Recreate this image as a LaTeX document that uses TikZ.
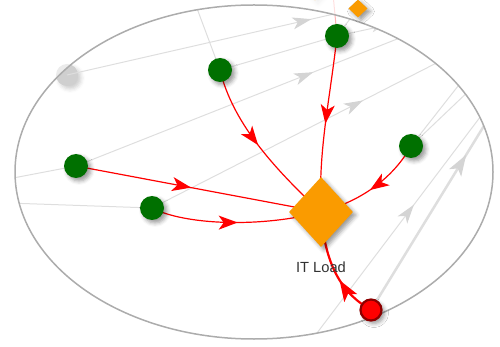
\documentclass[tikz,border=0pt]{standalone}
\usepackage{fontspec}
\setmainfont{Liberation Sans}
\usetikzlibrary{shapes.geometric,arrows.meta,decorations.markings,shadows.blur}
\definecolor{nodegreen}{RGB}{0,112,0}
\definecolor{loadorange}{RGB}{250,155,0}
\definecolor{flowred}{RGB}{255,0,0}
\definecolor{rimred}{RGB}{140,0,0}
\definecolor{rimgray}{RGB}{172,172,172}
\definecolor{tracegray}{RGB}{222,222,222}
\definecolor{tipgray}{RGB}{212,212,212}
\definecolor{labelgray}{RGB}{51,51,51}
\pgfdeclarelayer{back}
\pgfsetlayers{back,main}
\tikzset{
  softshadow/.style={blur shadow={shadow xshift=3pt, shadow yshift=-3pt,
      shadow blur radius=4pt, shadow opacity=40}},
  source/.style={circle, fill=nodegreen, minimum size=24pt, inner sep=0pt, softshadow},
  load/.style={diamond, fill=loadorange, minimum width=64pt, minimum height=70pt,
      inner sep=0pt, softshadow},
  smallload/.style={diamond, fill=loadorange, minimum width=19pt, minimum height=18pt,
      inner sep=0pt, softshadow},
  feed/.style={circle, fill=flowred, draw=rimred, line width=2.2pt, minimum size=21pt,
      inner sep=0pt, softshadow},
  ghost/.style={circle, fill=black!19, minimum size=22pt, inner sep=0pt,
      blur shadow={shadow xshift=3pt, shadow yshift=-3pt, shadow blur radius=4pt,
      shadow opacity=20}},
  labeltext/.style={text=labelgray, font=\fontsize{14.7}{17}\selectfont, inner sep=0pt},
  rim/.style={draw=rimgray, line width=1.5pt},
  flow/.style={draw=flowred, line width=1.2pt},
  redtip/.style={postaction={decorate}, decoration={markings,
      mark=at position #1 with {\arrow{Stealth[length=19pt,width=14pt,inset=5pt,color=flowred]}}}},
  trace/.style={draw=tracegray, line width=1pt},
  graytip/.style={postaction={decorate}, decoration={markings,
      mark=at position #1 with {\arrow{Stealth[length=19pt,width=12pt,inset=5pt,color=tipgray]}}}},
  smallgraytip/.style={postaction={decorate}, decoration={markings,
      mark=at position #1 with {\arrow{Stealth[length=11pt,width=8pt,inset=3pt,color=tracegray]}}}},
}
\begin{document}
\begin{tikzpicture}[x=1pt,y=-1pt]
\useasboundingbox (0,0) rectangle (500,347);

% loads, sources and feed
\node[load] (ld) at (321,212) {};
\node[labeltext] (lbl) at (321,267) {IT Load};
\node[smallload] (sd) at (358,8.5) {};
\node[source] (g1) at (220,70) {};
\node[source] (g2) at (337,36) {};
\node[source] (g3) at (76,166) {};
\node[source] (g4) at (152,208) {};
\node[source] (g5) at (411,146) {};
\node[feed] (fd) at (371,310) {};

% free ends of the background traces
\coordinate (l2end) at (192,-5);
\coordinate (l4end) at (430,26);
\coordinate (l5end) at (460,51);
\coordinate (l6aend) at (480,58);
\coordinate (l6bend) at (495,66);
\coordinate (l7start) at (317,333);
\coordinate (l7end) at (490,104);
\coordinate (l8end) at (490,116);
\coordinate (l9start) at (8,179);
\coordinate (l10start) at (8,203);
\coordinate (g2right) at (420,18);
\coordinate (fadedup) at (333,-6);

\begin{pgfonlayer}{back}
  % greyed-out source on the rim
  \node[ghost] (gh) at (67,75) {};
  % background traces, kept inside the rim
  \begin{scope}
    \clip (254,172) ellipse [x radius=239, y radius=167];
    \draw[trace, graytip=0.84] (gh.center) -- (sd.center);
    \draw[trace] (g1.center) -- (l2end);
    \draw[trace] (g1.center) -- (g2.center);
    \draw[trace] (g2.center) -- (sd.center);
    \draw[trace, smallgraytip=0.55] (g2.center) -- (g2right);
    \draw[trace, graytip=0.67] (g3.center) -- (l4end);
    \draw[trace, graytip=0.685] (g4.center) -- (l5end);
    \draw[trace] (g5.center) -- (l6aend);
    \draw[trace] (g5.center) -- (l6bend);
    \draw[trace, graytip=0.56] (l7start) -- (l7end);
    \draw[draw=tracegray, line width=2.5pt, postaction={decorate}, decoration={markings,
      mark=at position 0.8 with {\arrow{Stealth[length=21pt,width=14pt,inset=5pt,color=tipgray]}}}]
      (fd.center) -- (l8end);
    \draw[trace] (l9start) -- (g3.center);
    \draw[trace] (l10start) -- (g4.center);
  \end{scope}
  % faded items beyond the rim
  \draw[flowred, opacity=0.3, line width=1pt] (g2.center) -- (fadedup);
  \node[smallload, opacity=0.35, minimum width=14pt, minimum height=14pt] (fd2) at (315,-6) {};
  \fill[white, opacity=0.6, even odd rule] (0,0) rectangle (500,347)
    (254,172) ellipse [x radius=239, y radius=167];
  % rim
  \draw[rim] (254,172) ellipse [x radius=239, y radius=167];
  % flows into the load
  \draw[flow, redtip=0.48] (g1.center) .. controls (232,120) and (270,165) .. (ld.center);
  \draw[flow, redtip=0.5] (g2.center) .. controls (330,100) and (318,150) .. (ld.center);
  \draw[flow, redtip=0.47] (g3.center) -- (ld.center);
  \draw[flow, redtip=0.51] (g4.center) .. controls (185,225) and (260,228) .. (ld.center);
  \draw[flow, redtip=0.53] (g5.center) .. controls (395,175) and (365,200) .. (ld.center);
  \draw[draw=flowred, line width=2.2pt, postaction={decorate}, decoration={markings,
    mark=at position 0.38 with {\arrow{Stealth[length=21pt,width=15pt,inset=5pt,color=flowred]}}}]
    (fd.center) .. controls (345,295) and (325,270) .. (ld.center);
\end{pgfonlayer}
\end{tikzpicture}
\end{document}
